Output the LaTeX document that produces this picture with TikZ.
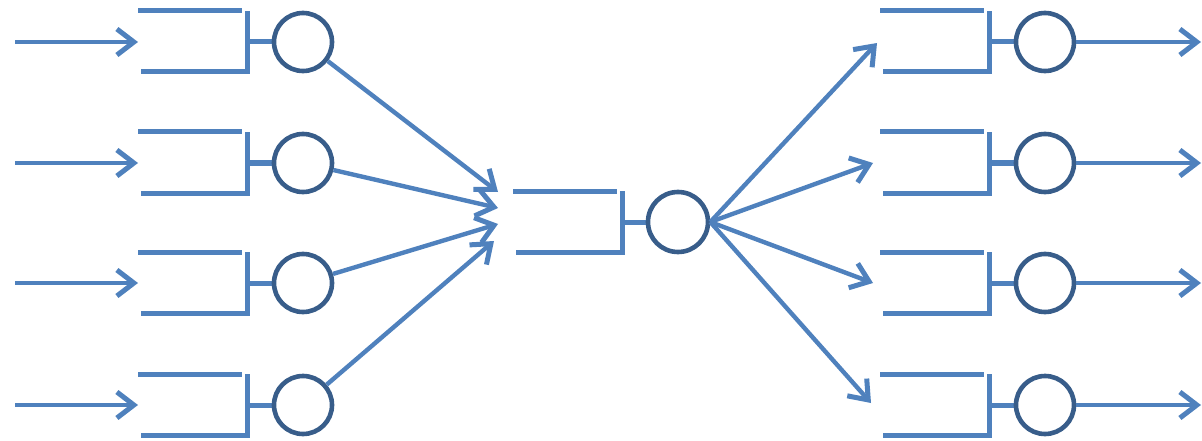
\documentclass[tikz,border=0pt]{standalone}
\usetikzlibrary{arrows.meta}
\definecolor{qblue}{RGB}{79,129,189}
\definecolor{cblue}{RGB}{56,93,138}
\begin{document}
\begin{tikzpicture}[x=1pt,y=-1pt,
  qline/.style={draw=qblue,line width=5pt},
  srv/.style={circle,draw=cblue,line width=4.6pt,minimum size=58pt,inner sep=0pt},
  flow/.style={draw=qblue,line width=4.4pt,-{Straight Barb[length=17pt,width=26pt,line width=5pt]}},
  queue/.pic={
    \draw[qline] (-165,-31) -- (-61,-31);
    \draw[qline] (-162,30) -- (-56,30) -- (-56,-31);
    \draw[qline] (-56,0) -- (-31,0);
  }]
\useasboundingbox (0,0) rectangle (1202,441);
% left column
\foreach \i/\y in {1/42,2/163,3/283,4/405}{
  \pic at (303,\y) {queue};
  \node[srv] (L\i) at (303,\y) {};
  \coordinate (Lin\i) at (15,\y);
  \coordinate (Ltip\i) at (138,\y);
  \draw[flow] (Lin\i) -- (Ltip\i);
}
% middle
\pic at (678,222) {queue};
\node[srv,minimum size=60pt] (M) at (678,222) {};
\coordinate (Mt1) at (498,192);
\coordinate (Mt2) at (498,208);
\coordinate (Mt3) at (498,224);
\coordinate (Mt4) at (494,241);
\foreach \i in {1,2,3,4}{
  \draw[flow] (L\i) -- (Mt\i);
}
% right column
\foreach \i/\y in {1/42,2/163,3/283,4/405}{
  \pic at (1045,\y) {queue};
  \node[srv] (R\i) at (1045,\y) {};
  \coordinate (Rout\i) at (1201,\y);
  \draw[flow] (R\i) -- (Rout\i);
}
\coordinate (Rt1) at (877,43);
\coordinate (Rt2) at (873,163);
\coordinate (Rt3) at (873,283);
\coordinate (Rt4) at (871,403);
\foreach \i in {1,2,3,4}{
  \draw[flow] (M.east) -- (Rt\i);
}
\end{tikzpicture}
\end{document}
